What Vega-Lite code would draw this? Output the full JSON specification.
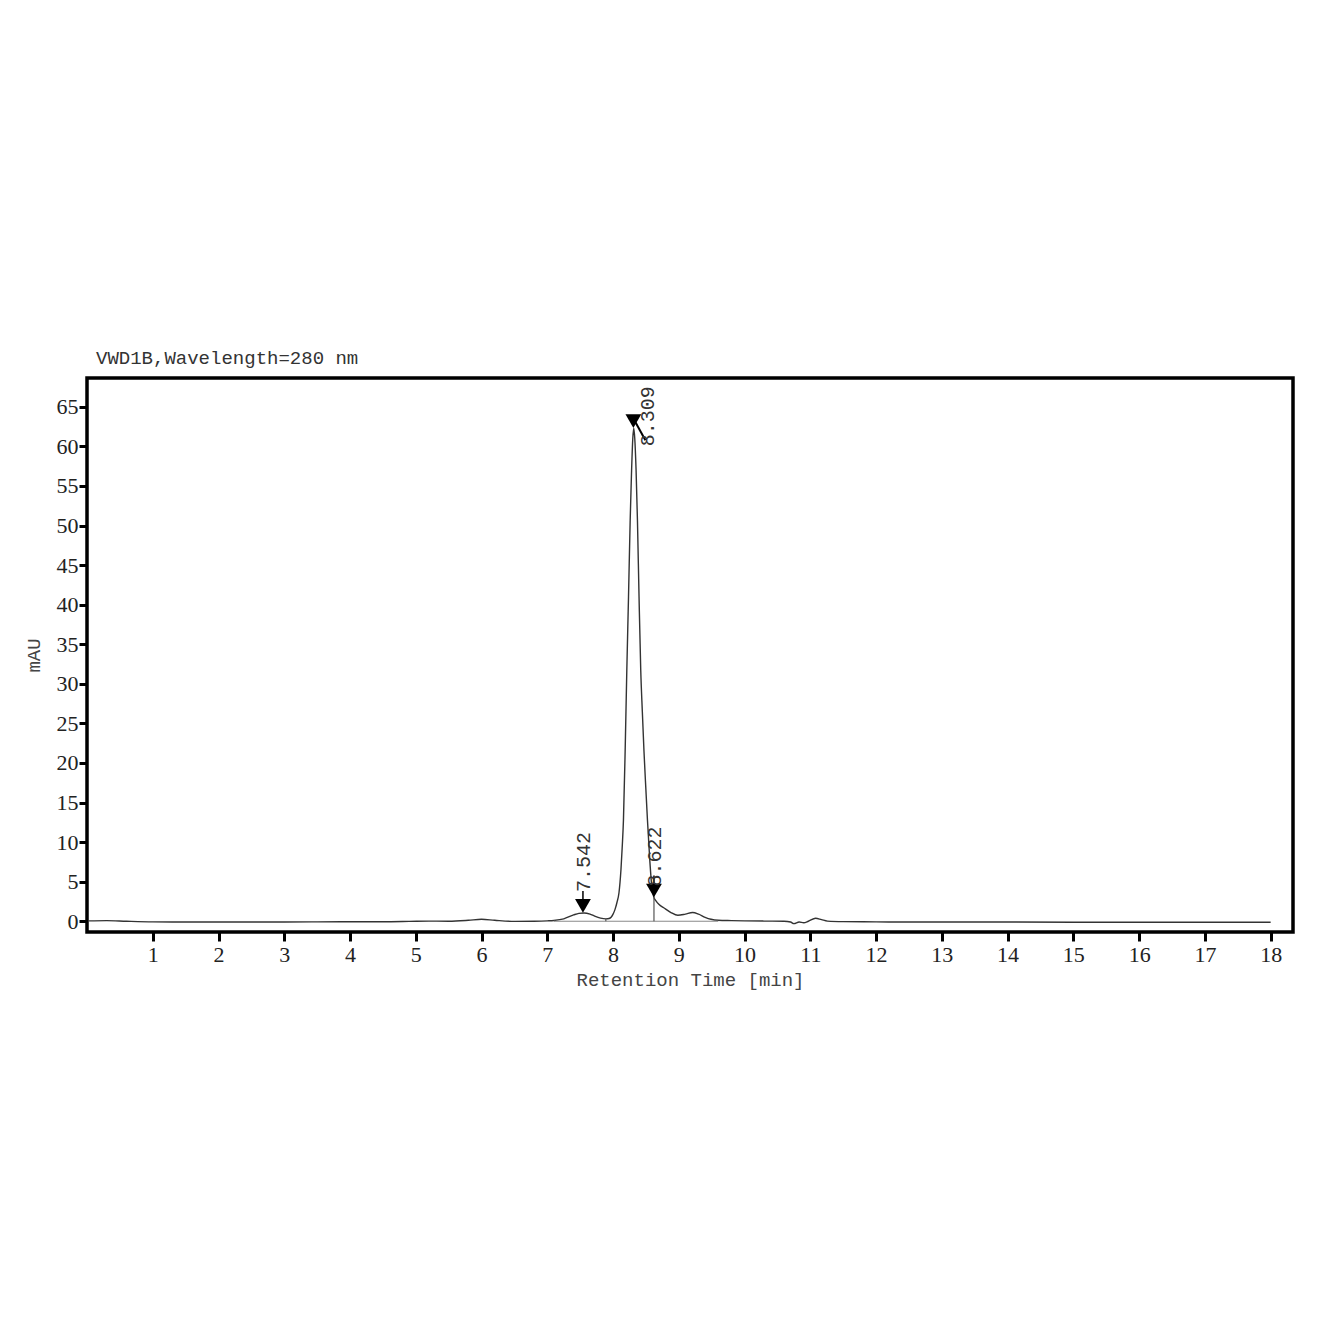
{
  "$schema": "https://vega.github.io/schema/vega-lite/v6.json",
  "width": 1206,
  "height": 554,
  "autosize": {"type": "none"},
  "padding": {"left": 87, "top": 378, "right": 51, "bottom": 412},
  "background": "white",
  "config": {
    "view": {"stroke": "black", "strokeWidth": 3.5},
    "axis": {"grid": false, "domain": false, "tickColor": "black", "tickWidth": 3, "labelFont": "Liberation Serif", "labelFontSize": 22, "labelColor": "#222", "titleFont": "Liberation Mono", "titleFontSize": 19, "titleFontWeight": "normal", "titleColor": "#444"}
  },
  "title": {"text": "VWD1B,Wavelength=280 nm", "anchor": "start", "frame": "group", "font": "Liberation Mono", "fontSize": 19, "fontWeight": "normal", "color": "#333", "offset": 10, "dx": 9},
  "datasets": {
    "trace": [
      {"t":0.02,"v":0.05},{"t":0.3,"v":0.08},{"t":0.6,"v":0.0},{"t":1.0,"v":-0.08},{"t":1.5,"v":-0.1},{"t":2.0,"v":-0.1},{"t":2.5,"v":-0.1},{"t":3.0,"v":-0.1},{"t":3.5,"v":-0.08},{"t":4.0,"v":-0.06},{"t":4.5,"v":-0.06},{"t":4.9,"v":-0.02},{"t":5.2,"v":0.02},{"t":5.5,"v":0.0},{"t":5.8,"v":0.12},{"t":6.0,"v":0.25},{"t":6.2,"v":0.12},{"t":6.5,"v":-0.02},{"t":6.8,"v":0.0},{"t":7.0,"v":0.05},{"t":7.1,"v":0.1},{"t":7.25,"v":0.3},{"t":7.4,"v":0.8},{"t":7.48,"v":1.0},{"t":7.56,"v":1.05},{"t":7.65,"v":0.9},{"t":7.72,"v":0.65},{"t":7.81,"v":0.4},{"t":7.89,"v":0.3},{"t":7.94,"v":0.35},{"t":7.97,"v":0.5},{"t":8.0,"v":0.9},{"t":8.03,"v":1.5},{"t":8.06,"v":2.4},{"t":8.09,"v":3.6},{"t":8.12,"v":6.5},{"t":8.14,"v":9.5},{"t":8.158,"v":12.8},{"t":8.185,"v":22},{"t":8.209,"v":31.7},{"t":8.235,"v":41},{"t":8.26,"v":50.6},{"t":8.28,"v":56.5},{"t":8.3,"v":61},{"t":8.315,"v":62.3},{"t":8.33,"v":61},{"t":8.35,"v":57},{"t":8.371,"v":50.6},{"t":8.395,"v":41},{"t":8.421,"v":31.7},{"t":8.445,"v":26.5},{"t":8.47,"v":21.5},{"t":8.5,"v":16.5},{"t":8.523,"v":12.8},{"t":8.56,"v":7.5},{"t":8.59,"v":4.3},{"t":8.622,"v":3.0},{"t":8.65,"v":2.6},{"t":8.7,"v":2.1},{"t":8.77,"v":1.7},{"t":8.88,"v":1.1},{"t":8.985,"v":0.75},{"t":9.1,"v":0.9},{"t":9.21,"v":1.1},{"t":9.3,"v":0.9},{"t":9.4,"v":0.5},{"t":9.49,"v":0.25},{"t":9.6,"v":0.12},{"t":9.8,"v":0.08},{"t":10.0,"v":0.05},{"t":10.3,"v":0.02},{"t":10.6,"v":0.0},{"t":10.7,"v":-0.1},{"t":10.75,"v":-0.3},{"t":10.83,"v":-0.1},{"t":10.9,"v":-0.2},{"t":10.97,"v":0.0},{"t":11.08,"v":0.38},{"t":11.17,"v":0.2},{"t":11.26,"v":0.02},{"t":11.5,"v":-0.05},{"t":12.0,"v":-0.08},{"t":13.0,"v":-0.1},{"t":14.0,"v":-0.1},{"t":15.0,"v":-0.12},{"t":16.0,"v":-0.12},{"t":17.0,"v":-0.12},{"t":18.0,"v":-0.12}
    ],
    "peaks": [
      {"t": 7.542, "v": 1.05, "label": "7.542"},
      {"t": 8.309, "v": 62.3, "label": "8.309"},
      {"t": 8.622, "v": 3.0, "label": "8.622"}
    ],
    "baseline": [{"start": 7.1, "end": 9.6, "level": 0}],
    "drops": [{"t": 7.89, "v": 0.3, "base": 0}, {"t": 8.622, "v": 3.0, "base": 0}]
  },
  "layer": [
    {
      "data": {"name": "trace"},
      "mark": {"type": "line", "color": "#333", "strokeWidth": 1.4, "interpolate": "monotone"},
      "encoding": {
        "x": {"field": "t", "type": "quantitative", "scale": {"domain": [0, 18.34], "nice": false, "zero": false},
              "axis": {"values": [1,2,3,4,5,6,7,8,9,10,11,12,13,14,15,16,17,18], "format": "d", "tickSize": 9, "labelPadding": 3, "title": "Retention Time [min]", "titlePadding": 5}},
        "y": {"field": "v", "type": "quantitative", "scale": {"domain": [-1.36, 68.64], "nice": false, "zero": false},
              "axis": {"values": [0,5,10,15,20,25,30,35,40,45,50,55,60,65], "format": "d", "tickSize": 8, "labelPadding": 1, "title": "mAU", "titlePadding": 13}}
      }
    },
    {
      "data": {"name": "baseline"},
      "mark": {"type": "rule", "color": "#888", "strokeWidth": 1},
      "encoding": {
        "x": {"field": "start", "type": "quantitative"},
        "x2": {"field": "end"},
        "y": {"field": "level", "type": "quantitative"}
      }
    },
    {
      "data": {"name": "drops"},
      "mark": {"type": "rule", "color": "#555", "strokeWidth": 1.2},
      "encoding": {
        "x": {"field": "t", "type": "quantitative"},
        "y": {"field": "base", "type": "quantitative"},
        "y2": {"field": "v"}
      }
    },
    {
      "data": {"name": "peaks"},
      "transform": [{"filter": "datum.label != '8.309'"}],
      "mark": {"type": "rule", "color": "black", "strokeWidth": 1.5, "yOffset": -12, "y2Offset": -22},
      "encoding": {
        "x": {"field": "t", "type": "quantitative"},
        "y": {"field": "v", "type": "quantitative"},
        "y2": {"field": "v"}
      }
    },
    {
      "data": {"name": "peaks"},
      "transform": [{"filter": "datum.label == '8.309'"}],
      "mark": {"type": "rule", "color": "black", "strokeWidth": 2, "xOffset": 1, "yOffset": -8, "x2Offset": 12, "y2Offset": 12},
      "encoding": {
        "x": {"field": "t", "type": "quantitative"},
        "x2": {"field": "t"},
        "y": {"field": "v", "type": "quantitative"},
        "y2": {"field": "v"}
      }
    },
    {
      "data": {"name": "peaks"},
      "mark": {"type": "point", "shape": "triangle-down", "filled": true, "color": "black", "opacity": 1, "size": 250, "yOffset": -7},
      "encoding": {
        "x": {"field": "t", "type": "quantitative"},
        "y": {"field": "v", "type": "quantitative"}
      }
    },
    {
      "data": {"name": "peaks"},
      "transform": [{"filter": "datum.label == '7.542'"}],
      "mark": {"type": "text", "angle": 270, "align": "left", "baseline": "middle", "font": "Liberation Mono", "fontSize": 20, "color": "#333", "dx": 21, "dy": 1},
      "encoding": {
        "x": {"field": "t", "type": "quantitative"},
        "y": {"field": "v", "type": "quantitative"},
        "text": {"field": "label"}
      }
    },
    {
      "data": {"name": "peaks"},
      "transform": [{"filter": "datum.label == '8.622'"}],
      "mark": {"type": "text", "angle": 270, "align": "left", "baseline": "middle", "font": "Liberation Mono", "fontSize": 20, "color": "#333", "dx": 11, "dy": 1},
      "encoding": {
        "x": {"field": "t", "type": "quantitative"},
        "y": {"field": "v", "type": "quantitative"},
        "text": {"field": "label"}
      }
    },
    {
      "data": {"name": "peaks"},
      "transform": [{"filter": "datum.label == '8.309'"}],
      "mark": {"type": "text", "angle": 270, "align": "left", "baseline": "middle", "font": "Liberation Mono", "fontSize": 20, "color": "#333", "dx": -18, "dy": 15},
      "encoding": {
        "x": {"field": "t", "type": "quantitative"},
        "y": {"field": "v", "type": "quantitative"},
        "text": {"field": "label"}
      }
    }
  ]
}
